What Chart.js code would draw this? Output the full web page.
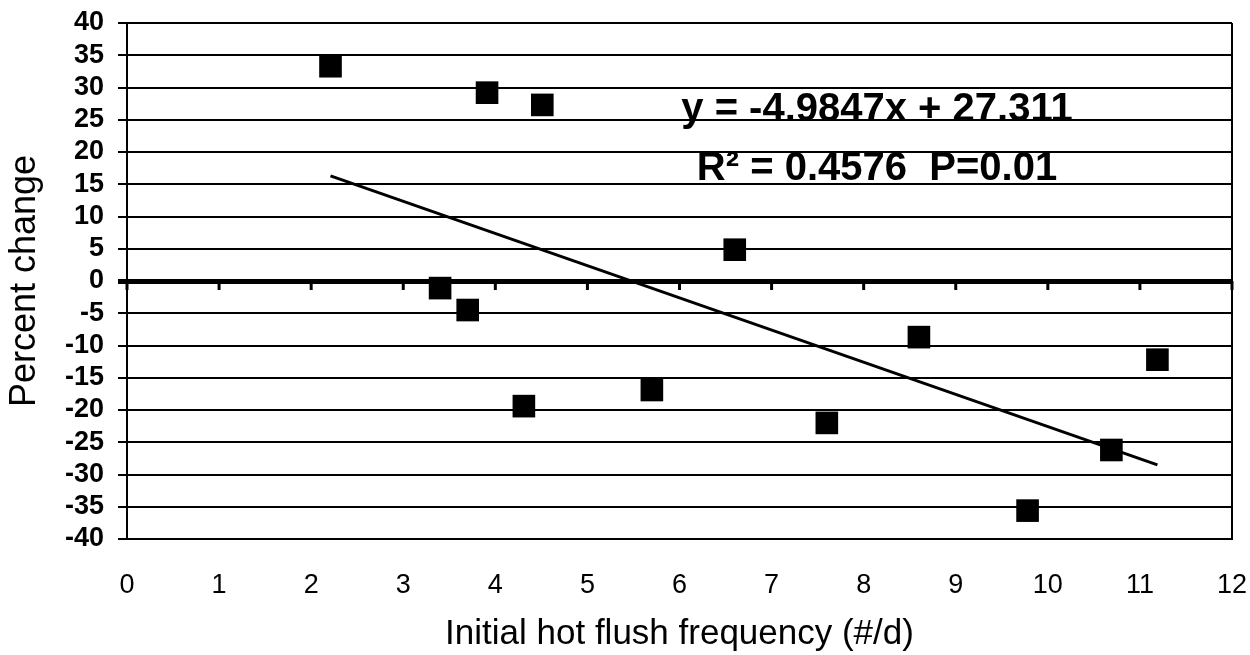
<!DOCTYPE html>
<html>
<head>
<meta charset="utf-8">
<script src="https://cdn.jsdelivr.net/npm/chart.js@4/dist/chart.umd.min.js"></script>
<style>
  html, body { margin: 0; padding: 0; background: #fff; }
  #wrap { width: 1250px; height: 655px; position: relative; }
</style>
</head>
<body>
<div id="wrap"><canvas id="c" width="1250" height="655"></canvas></div>
<script>
// Data
const frequency = [2.21, 3.40, 3.70, 3.91, 4.31, 4.51, 5.70, 6.60, 7.60, 8.60, 9.78, 10.69, 11.19];
const percentChange = [33.3, -1.1, -4.5, 29.2, -19.4, 27.3, -16.9, 4.85, -22.0, -8.7, -35.6, -26.2, -12.2];
const trendX = [2.21, 11.19];
const trendY = [16.3, -28.5];
const equationLines = ["y = -4.9847x + 27.311", "R\u00b2 = 0.4576  P=0.01"];
const xTitle = "Initial hot flush frequency (#/d)";
const yTitle = "Percent change";

const FONT = "'Liberation Sans', Arial, Helvetica, sans-serif";

const scatterPts = frequency.map((x, i) => ({ x: x, y: percentChange[i] }));
const trendPts = trendX.map((x, i) => ({ x: x, y: trendY[i] }));

const decorPlugin = {
  id: 'decor',
  afterDatasetsDraw(chart) {
    const ctx = chart.ctx;
    const xs = chart.scales.x, ys = chart.scales.y;
    const area = chart.chartArea;
    ctx.save();
    // right border
    ctx.strokeStyle = '#000';
    ctx.lineWidth = 2;
    ctx.beginPath();
    ctx.moveTo(area.right, area.top);
    ctx.lineTo(area.right, area.bottom);
    ctx.stroke();
    // tick marks on the zero line
    const y0 = ys.getPixelForValue(0);
    ctx.lineWidth = 3;
    xs.ticks.forEach(t => {
      const px = xs.getPixelForValue(t.value);
      ctx.beginPath();
      ctx.moveTo(px, y0);
      ctx.lineTo(px, y0 + 9);
      ctx.stroke();
    });
    // equation text
    ctx.fillStyle = '#000';
    ctx.font = "bold 40px " + FONT;
    ctx.textAlign = 'center';
    ctx.textBaseline = 'alphabetic';
    ctx.fillText(equationLines[0], 877, 121);
    ctx.fillText(equationLines[1], 877, 180);
    ctx.restore();
  }
};

new Chart(document.getElementById('c'), {
  type: 'scatter',
  data: {
    datasets: [
      {
        label: 'data',
        data: scatterPts,
        pointStyle: 'rect',
        pointRadius: 16,
        pointHoverRadius: 16,
        backgroundColor: '#000',
        borderColor: '#000',
        borderWidth: 0,
        order: 0
      },
      {
        label: 'trend',
        type: 'line',
        data: trendPts,
        borderColor: '#000',
        borderWidth: 3,
        pointRadius: 0,
        fill: false,
        order: 1
      }
    ]
  },
  options: {
    responsive: false,
    animation: false,
    devicePixelRatio: 1,
    layout: { padding: { top: 23, right: 18, left: 0, bottom: 0 } },
    plugins: {
      legend: { display: false },
      tooltip: { enabled: false }
    },
    scales: {
      x: {
        type: 'linear',
        min: 0, max: 12,
        afterFit: s => { s.height = 116; s.paddingLeft = 0; s.paddingRight = 0; },
        grid: { display: false, drawTicks: false },
        border: { display: true, color: '#000', width: 2 },
        ticks: {
          stepSize: 1,
          autoSkip: false,
          maxRotation: 0,
          padding: 30,
          color: '#000',
          font: { family: FONT, size: 27 }
        },
        title: {
          display: true,
          text: xTitle,
          color: '#000',
          font: { family: FONT, size: 35 },
          padding: { top: 19, bottom: 0 }
        }
      },
      y: {
        type: 'linear',
        min: -40, max: 40,
        afterFit: s => { s.width = 127; s.paddingTop = 0; s.paddingBottom = 0; },
        grid: {
          color: '#000',
          lineWidth: c => (c.tick && c.tick.value === 0 ? 5 : 2),
          drawTicks: true,
          tickLength: 9
        },
        border: { display: true, color: '#000', width: 2 },
        ticks: {
          stepSize: 5,
          autoSkip: false,
          padding: 14,
          color: '#000',
          font: { family: FONT, size: 27, weight: 'bold' }
        },
        title: {
          display: true,
          text: yTitle,
          color: '#000',
          font: { family: FONT, size: 36 },
          padding: { top: 3, bottom: 0 }
        }
      }
    }
  },
  plugins: [decorPlugin]
});
</script>
</body>
</html>
